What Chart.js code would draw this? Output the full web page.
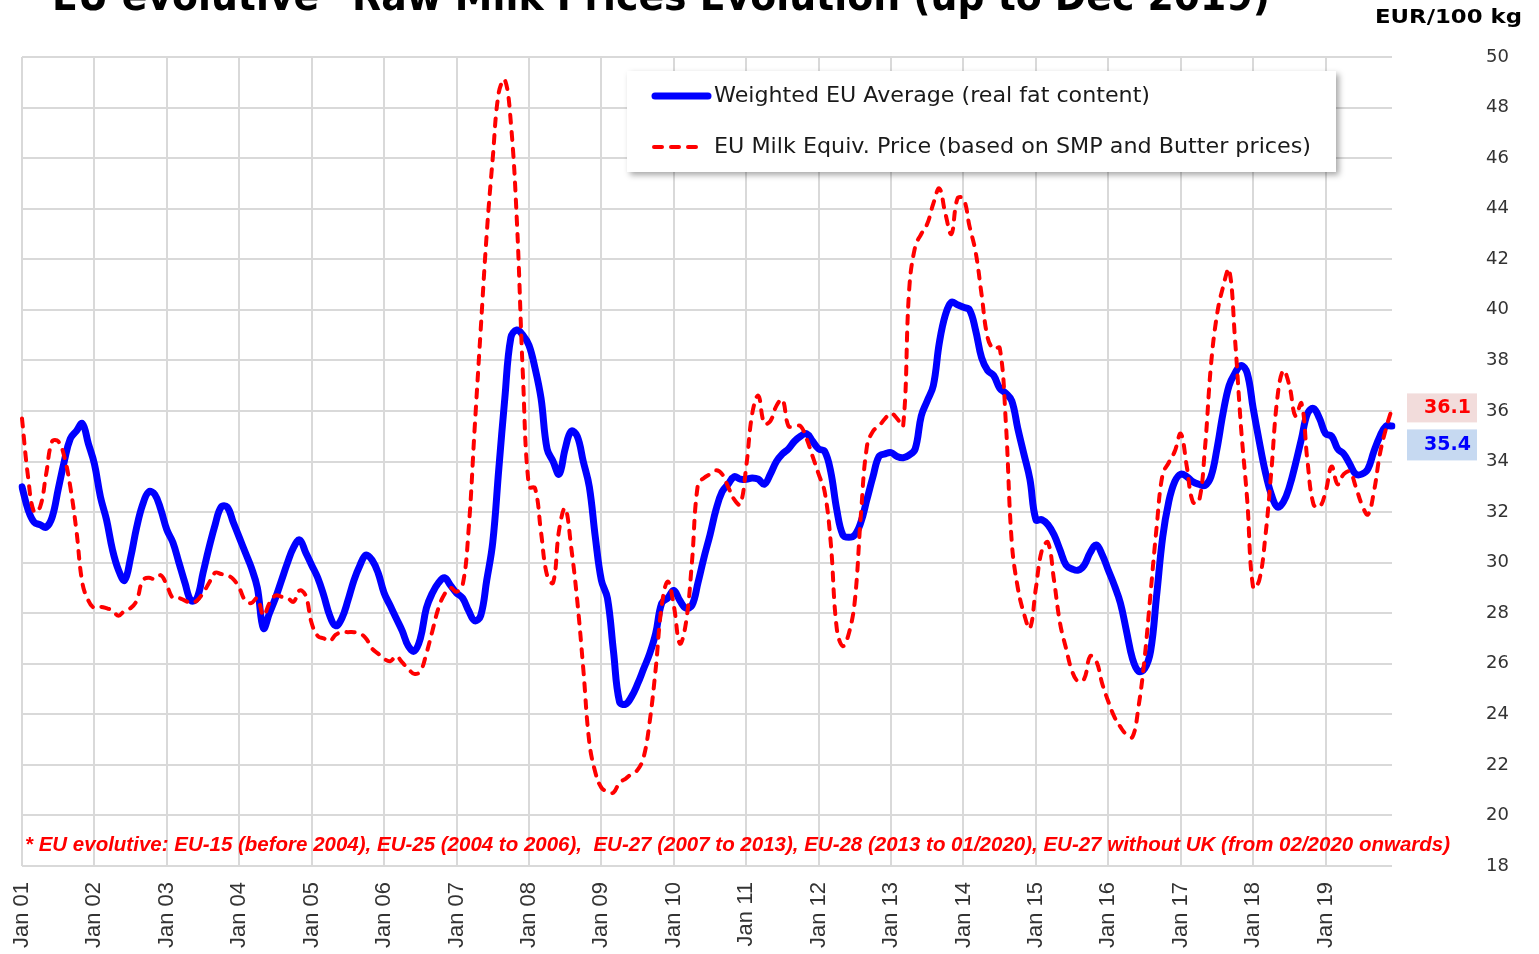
<!DOCTYPE html>
<html lang="en">
<head>
  <meta charset="UTF-8" />
  <title>EU Raw Milk Prices Evolution</title>
  <script src="https://cdn.jsdelivr.net/npm/chart.js"></script>
  <style>
    body {
      margin: 0;
      background: #fff;
    }
    .wrap {
      width: 1539px;
      height: 954px;
    }
  </style>
</head>
<body>
  <div class="wrap"><canvas id="milkChart"></canvas></div>

  <script>
    // categories: one per month, Jan 2001 .. Dec 2019
    const years = ['01','02','03','04','05','06','07','08','09','10','11','12','13','14','15','16','17','18','19'];
    const monthNames = ['Jan','Feb','Mar','Apr','May','Jun','Jul','Aug','Sep','Oct','Nov','Dec'];

    // Weighted EU Average (real fat content), EUR/100 kg
    const weightedAvg = [
      33.0, 32.1, 31.6, 31.5, 31.4, 31.8, 32.9, 34.0, 34.9, 35.2, 35.5, 34.7,   // 2001
      33.9, 32.6, 31.7, 30.5, 29.7, 29.3, 30.2, 31.4, 32.3, 32.8, 32.7, 32.1,   // 2002
      31.3, 30.8, 30.0, 29.2, 28.5, 28.6, 29.6, 30.6, 31.5, 32.2, 32.2, 31.6,   // 2003
      31.0, 30.4, 29.8, 29.0, 27.4, 28.0, 28.6, 29.3, 30.0, 30.6, 30.9, 30.4,   // 2004
      29.9, 29.4, 28.7, 27.9, 27.5, 27.8, 28.5, 29.3, 29.9, 30.3, 30.1, 29.6,   // 2005
      28.8, 28.3, 27.8, 27.3, 26.7, 26.5, 27.0, 28.2, 28.8, 29.2, 29.4, 29.1,   // 2006
      28.8, 28.6, 28.1, 27.7, 27.9, 29.3, 30.8, 33.7, 36.5, 38.9, 39.2, 39.0,   // 2007
      38.6, 37.7, 36.5, 34.5, 34.0, 33.5, 34.5, 35.2, 35.0, 34.0, 33.0, 31.0,   // 2008
      29.3, 28.6, 26.5, 24.5, 24.4, 24.7, 25.2, 25.8, 26.4, 27.2, 28.4, 28.6,   // 2009
      28.9, 28.5, 28.2, 28.3, 29.2, 30.2, 31.1, 32.1, 32.8, 33.1, 33.4, 33.3,   // 2010
      33.3, 33.35, 33.3, 33.1, 33.5, 34.0, 34.3, 34.5, 34.8, 35.0, 35.1, 34.8,  // 2011
      34.5, 34.4, 33.6, 32.1, 31.1, 31.0, 31.1, 31.6, 32.5, 33.4, 34.2, 34.3,   // 2012
      34.35, 34.2, 34.15, 34.25, 34.5, 35.8, 36.4, 37.0, 38.7, 39.8, 40.3, 40.2, // 2013
      40.1, 40.0, 39.2, 38.1, 37.6, 37.4, 36.9, 36.7, 36.4, 35.3, 34.3, 33.3,   // 2014
      31.7, 31.7, 31.5, 31.1, 30.5, 29.9, 29.75, 29.7, 29.9, 30.4, 30.7, 30.3,  // 2015
      29.7, 29.1, 28.4, 27.3, 26.2, 25.7, 25.8, 26.5, 28.7, 31.0, 32.4, 33.2,   // 2016
      33.5, 33.4, 33.2, 33.1, 33.05, 33.4, 34.5, 35.9, 37.0, 37.5, 37.8, 37.5,  // 2017
      36.1, 34.8, 33.6, 32.7, 32.2, 32.4, 33.0, 33.9, 34.9, 35.9, 36.1, 35.7,   // 2018
      35.1, 35.0, 34.5, 34.3, 33.9, 33.5, 33.5, 33.7, 34.4, 35.0, 35.4, 35.4    // 2019
    ];

    // EU Milk Equiv. Price (based on SMP and Butter prices), EUR/100 kg
    const milkEquiv = [
      35.7, 33.4, 32.0, 32.2, 33.5, 34.8, 34.8, 34.2, 33.0, 31.3, 29.2, 28.5,   // 2001
      28.2, 28.25, 28.2, 28.1, 27.9, 28.1, 28.2, 28.5, 29.3, 29.4, 29.35, 29.5, // 2002
      29.1, 28.6, 28.6, 28.5, 28.4, 28.5, 28.8, 29.2, 29.6, 29.55, 29.5, 29.35, // 2003
      29.0, 28.5, 28.4, 28.6, 27.9, 28.4, 28.7, 28.65, 28.6, 28.45, 28.9, 28.7, // 2004
      27.6, 27.1, 27.0, 26.9, 27.15, 27.25, 27.25, 27.25, 27.2, 27.0, 26.6, 26.4, // 2005
      26.2, 26.1, 26.3, 26.05, 25.8, 25.6, 25.7, 26.4, 27.3, 28.2, 28.75, 29.0, // 2006
      28.85, 29.1, 31.3, 35.3, 39.2, 43.0, 46.0, 48.6, 49.1, 47.4, 43.5, 37.4,  // 2007
      33.0, 32.95, 31.2, 29.5, 29.2, 31.3, 32.15, 30.6, 28.5, 25.8, 22.9, 21.7, // 2008
      21.1, 20.95, 20.9, 21.3, 21.45, 21.65, 21.8, 22.3, 23.7, 25.8, 28.3, 29.25, // 2009
      28.3, 26.8, 27.6, 30.0, 33.1, 33.35, 33.5, 33.65, 33.5, 33.0, 32.5, 32.3, // 2010
      33.8, 35.9, 36.6, 35.5, 35.6, 36.2, 36.45, 35.4, 35.4, 35.4, 34.9, 34.2,  // 2011
      33.5, 32.8, 30.8, 27.4, 26.7, 27.2, 28.5, 31.9, 34.6, 35.2, 35.4, 35.7,   // 2012
      35.9, 35.7, 35.4, 40.8, 42.5, 43.0, 43.4, 44.2, 44.8, 43.8, 43.0, 44.4,   // 2013
      44.4, 43.3, 42.3, 40.6, 38.9, 38.45, 38.5, 35.6, 30.8, 29.0, 28.0, 27.4,  // 2014
      29.0, 30.5, 30.8, 29.3, 27.6, 26.6, 25.7, 25.3, 25.4, 26.3, 26.1, 25.2,   // 2015
      24.5, 23.9, 23.5, 23.2, 23.1, 24.3, 26.2, 28.8, 31.4, 33.5, 33.95, 34.4,  // 2016
      35.1, 33.8, 32.4, 32.4, 34.5, 37.8, 39.8, 40.9, 41.6, 38.8, 35.3, 32.5,   // 2017
      29.0, 29.3, 31.0, 33.6, 36.5, 37.6, 37.0, 35.8, 36.3, 34.0, 32.3, 32.2,   // 2018
      32.8, 33.8, 33.1, 33.5, 33.6, 33.0, 32.3, 31.9, 32.8, 34.3, 35.3, 36.1    // 2019
    ];

    const seriesNames = ['Weighted EU Average (real fat content)', 'EU Milk Equiv. Price (based on SMP and Butter prices)'];
    const titleText = 'EU evolutive* Raw Milk Prices Evolution (up to Dec 2019)';
    const unitText = 'EUR/100 kg';
    const footnote = '* EU evolutive: EU-15 (before 2004), EU-25 (2004 to 2006),  EU-27 (2007 to 2013), EU-28 (2013 to 01/2020), EU-27 without UK (from 02/2020 onwards)';

    const labels = [];
    years.forEach(y => monthNames.forEach(m => labels.push(m + ' ' + y)));

    const gridColor = '#d9d9d9';
    const blue = '#0000ff';
    const red = '#ff0000';

    // draw text from a left edge, stretched or squeezed to a given width
    function fitText(ctx, text, x, y, width) {
      const w = ctx.measureText(text).width;
      ctx.save();
      ctx.translate(x, y);
      ctx.scale(width / w, 1);
      ctx.textAlign = 'left';
      ctx.fillText(text, 0, 0);
      ctx.restore();
    }

    // titles, legend box, footnote and last-value tags
    const decor = {
      id: 'decor',
      beforeDraw(chart) {
        const ctx = chart.ctx;
        ctx.save();
        ctx.fillStyle = '#fff';
        ctx.fillRect(0, 0, chart.width, chart.height);
        ctx.restore();
      },
      afterDraw(chart) {
        const ctx = chart.ctx;
        const yScale = chart.scales.y;
        ctx.save();

        // main title, cut off by the top edge
        ctx.fillStyle = '#000';
        ctx.font = 'bold 40px "DejaVu Sans", Verdana, sans-serif';
        ctx.textBaseline = 'alphabetic';
        fitText(ctx, titleText, 52, 10, 1218);

        // unit label
        ctx.font = 'bold 20px "DejaVu Sans", Verdana, sans-serif';
        ctx.textBaseline = 'middle';
        fitText(ctx, unitText, 1375, 18, 147);

        // footnote
        ctx.fillStyle = red;
        ctx.font = 'italic bold 21px "Liberation Sans Narrow", "Liberation Sans", Arial, sans-serif';
        fitText(ctx, footnote, 25, 845, 1425);

        // legend box
        ctx.save();
        ctx.shadowColor = 'rgba(0,0,0,0.35)';
        ctx.shadowBlur = 6;
        ctx.shadowOffsetX = 3;
        ctx.shadowOffsetY = 3;
        ctx.fillStyle = '#fff';
        ctx.fillRect(627, 71, 709, 101);
        ctx.restore();

        const ds = chart.data.datasets;
        ctx.lineCap = 'round';
        ctx.strokeStyle = ds[0].borderColor;
        ctx.lineWidth = 7;
        ctx.beginPath();
        ctx.moveTo(655, 96);
        ctx.lineTo(708, 96);
        ctx.stroke();

        ctx.strokeStyle = ds[1].borderColor;
        ctx.lineWidth = 4;
        ctx.setLineDash(ds[1].borderDash);
        ctx.beginPath();
        ctx.moveTo(654, 147);
        ctx.lineTo(704, 147);
        ctx.stroke();
        ctx.setLineDash([]);

        ctx.fillStyle = '#1a1a1a';
        ctx.font = '21px "DejaVu Sans", Verdana, sans-serif';
        fitText(ctx, ds[0].label, 714, 97, 436);
        fitText(ctx, ds[1].label, 714, 148, 597);

        // last value tags
        const lastR = milkEquiv[milkEquiv.length - 1];
        const lastB = weightedAvg[weightedAvg.length - 1];
        const ry = yScale.getPixelForValue(lastR);
        ctx.fillStyle = '#f2dcdb';
        ctx.fillRect(1407, ry - 15, 70, 29);
        ctx.fillStyle = '#c6d9f1';
        ctx.fillRect(1407, ry + 21, 70, 31);
        ctx.font = 'bold 19px "DejaVu Sans", Verdana, sans-serif';
        ctx.textAlign = 'right';
        ctx.fillStyle = red;
        ctx.fillText(lastR.toFixed(1), 1471, ry);
        ctx.fillStyle = blue;
        ctx.fillText(lastB.toFixed(1), 1471, ry + 37);

        ctx.restore();
      }
    };

    new Chart(document.getElementById('milkChart'), {
      type: 'line',
      data: {
        labels: labels,
        datasets: [
          {
            label: seriesNames[0],
            data: weightedAvg,
            borderColor: blue,
            borderWidth: 7,
            pointRadius: 0,
            tension: 0.4,
            borderCapStyle: 'round',
            borderJoinStyle: 'round',
            order: 1
          },
          {
            label: seriesNames[1],
            data: milkEquiv,
            borderColor: red,
            borderWidth: 4,
            borderDash: [8, 9],
            borderCapStyle: 'round',
            pointRadius: 0,
            tension: 0.4,
            order: 0
          }
        ]
      },
      options: {
        responsive: true,
        maintainAspectRatio: false,
        animation: false,
        layout: { padding: { left: 22, top: 57, right: 0, bottom: 0 } },
        plugins: {
          legend: { display: false },
          tooltip: { enabled: false },
          title: { display: false }
        },
        scales: {
          x: {
            type: 'category',
            afterFit: s => { s.height = 88; s.paddingLeft = 0; s.paddingRight = 0; },
            grid: {
              color: c => (c.index % 12 === 0 && c.index < labels.length - 1) ? gridColor : 'rgba(0,0,0,0)',
              lineWidth: 2,
              drawTicks: false
            },
            border: { display: false },
            ticks: {
              autoSkip: false,
              maxRotation: 90,
              minRotation: 90,
              padding: 16,
              color: '#333',
              font: { family: '"Liberation Sans", Arial, sans-serif', size: 22 },
              callback: function (v, i) { return i % 12 === 0 ? labels[i] : ''; }
            }
          },
          y: {
            position: 'right',
            min: 18,
            max: 50,
            afterFit: s => { s.width = 147; s.paddingTop = 0; s.paddingBottom = 0; },
            grid: { color: gridColor, lineWidth: 2, drawTicks: false },
            border: { display: false },
            ticks: {
              stepSize: 2,
              padding: 94,
              color: '#333',
              font: { family: '"DejaVu Sans", Verdana, sans-serif', size: 18 }
            }
          }
        }
      },
      plugins: [decor]
    });
  </script>
</body>
</html>
